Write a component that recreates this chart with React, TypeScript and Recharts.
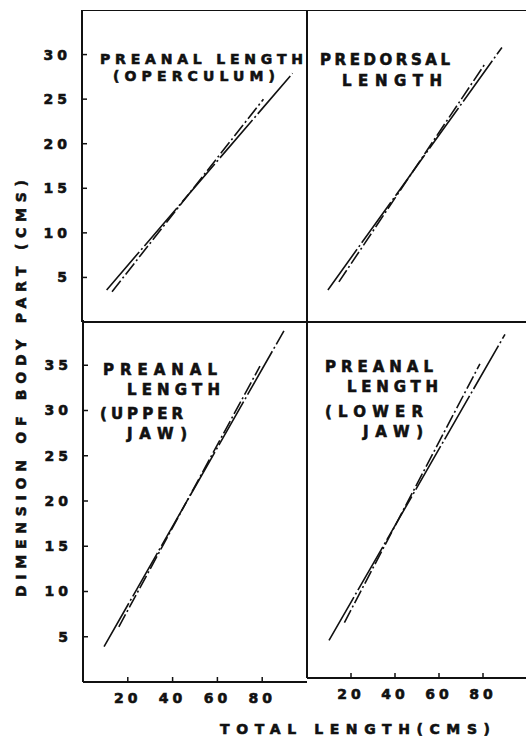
import React from "react"
import { LineChart, Line, XAxis, YAxis, ReferenceLine } from "recharts"

// tick values
const X_TICKS = [20, 40, 60, 80]
const Y_TICKS_TOP = [5, 10, 15, 20, 25, 30]
const Y_TICKS_BOTTOM = [5, 10, 15, 20, 25, 30, 35]

// preanal length (operculum)
const opercLongX = [11, 94]
const opercLongY = [3.6, 27.9]
const opercShortX = [13.4, 81]
const opercShortY = [3.4, 25.0]

// predorsal length
const predorsLongX = [9.5, 88.6]
const predorsLongY = [3.6, 30.8]
const predorsShortX = [14.5, 81]
const predorsShortY = [4.5, 29.0]

// preanal length (upper jaw)
const upperLongX = [9.4, 89.7]
const upperLongY = [3.9, 38.8]
const upperShortX = [16, 79]
const upperShortY = [6.1, 34.9]

// preanal length (lower jaw)
const lowerLongX = [10, 90]
const lowerLongY = [4.2, 38.4]
const lowerShortX = [17, 78.6]
const lowerShortY = [6.2, 35.1]

const INK = "#111"
const FONT = "DejaVu Sans"

const pts = (xs: number[], ys: number[]) => xs.map((x, i) => ({ x, y: ys[i] }))

const tickStyle = {
  fontSize: 14, fontWeight: 700, fill: INK, fontFamily: FONT, letterSpacing: 4,
  stroke: INK, strokeWidth: 0.6,
}

interface PanelProps {
  left: number
  top: number
  width: number
  height: number
  yAxisWidth: number
  xAxisHeight: number
  yMax: number
  yTicks: number[]
  yLabels: boolean
  xLabels: boolean
  topBorder: boolean
  longLine: { x: number; y: number }[]
  shortLine: { x: number; y: number }[]
}

function Panel(p: PanelProps) {
  return (
    <div style={{ position: "absolute", left: p.left, top: p.top }}>
      <LineChart width={p.width} height={p.height} margin={{ top: 0, right: 0, left: 0, bottom: 0 }}>
        <XAxis
          type="number"
          dataKey="x"
          domain={[0, 100]}
          ticks={X_TICKS}
          height={p.xAxisHeight}
          axisLine={{ stroke: INK, strokeWidth: 2 }}
          tickLine={{ stroke: INK, strokeWidth: 1.5 }}
          tickSize={-5}
          tickMargin={16}
          tick={p.xLabels ? tickStyle : false}
          allowDataOverflow
        />
        <YAxis
          type="number"
          dataKey="y"
          domain={[0, p.yMax]}
          ticks={p.yTicks}
          width={p.yAxisWidth}
          axisLine={{ stroke: INK, strokeWidth: 2 }}
          tickLine={{ stroke: INK, strokeWidth: 1.5 }}
          tickSize={-5}
          tickMargin={16}
          tick={p.yLabels ? tickStyle : false}
          allowDataOverflow
        />
        {p.topBorder && <ReferenceLine y={p.yMax} stroke={INK} strokeWidth={2} />}
        <Line
          data={p.longLine}
          dataKey="y"
          stroke={INK}
          strokeWidth={1.6}
          strokeDasharray="50 3 2 3"
          dot={false}
          isAnimationActive={false}
        />
        <Line
          data={p.shortLine}
          dataKey="y"
          stroke={INK}
          strokeWidth={1.6}
          strokeDasharray="14 3 2 3"
          dot={false}
          isAnimationActive={false}
        />
      </LineChart>
    </div>
  )
}

const titleStyle = {
  fontFamily: FONT, fontWeight: 700, fontSize: 15, fill: INK, stroke: INK, strokeWidth: 0.6,
}

export default function App() {
  return (
    <div style={{ position: "absolute", left: 0, top: 0, width: 526, height: 743, background: "#fff", overflow: "hidden" }}>
      <Panel
        left={0} top={10} width={306} height={322} yAxisWidth={82} xAxisHeight={10}
        yMax={35} yTicks={Y_TICKS_TOP} yLabels xLabels={false} topBorder
        longLine={pts(opercLongX, opercLongY)} shortLine={pts(opercShortX, opercShortY)}
      />
      <Panel
        left={297} top={10} width={230} height={322} yAxisWidth={10} xAxisHeight={10}
        yMax={35} yTicks={Y_TICKS_TOP} yLabels={false} xLabels={false} topBorder
        longLine={pts(predorsLongX, predorsLongY)} shortLine={pts(predorsShortX, predorsShortY)}
      />
      <Panel
        left={0} top={320} width={307} height={402} yAxisWidth={83} xAxisHeight={40}
        yMax={40} yTicks={Y_TICKS_BOTTOM} yLabels xLabels topBorder={false}
        longLine={pts(upperLongX, upperLongY)} shortLine={pts(upperShortX, upperShortY)}
      />
      <Panel
        left={297} top={320} width={230} height={398} yAxisWidth={10} xAxisHeight={40}
        yMax={40} yTicks={Y_TICKS_BOTTOM} yLabels={false} xLabels topBorder={false}
        longLine={pts(lowerLongX, lowerLongY)} shortLine={pts(lowerShortX, lowerShortY)}
      />
      <svg width={526} height={743} style={{ position: "absolute", left: 0, top: 0, pointerEvents: "none" }}>
        <text x={100} y={64} textLength={203} lengthAdjust="spacing" {...titleStyle} fontSize={14}>PREANAL LENGTH</text>
        <text x={113} y={81} textLength={162} lengthAdjust="spacing" {...titleStyle} fontSize={14}>(OPERCULUM)</text>
        <text x={320} y={65} textLength={130} lengthAdjust="spacing" {...titleStyle}>PREDORSAL</text>
        <text x={342} y={86} textLength={100} lengthAdjust="spacing" {...titleStyle}>LENGTH</text>
        <text x={103} y={375} textLength={114} lengthAdjust="spacing" {...titleStyle}>PREANAL</text>
        <text x={127} y={395} textLength={93} lengthAdjust="spacing" {...titleStyle}>LENGTH</text>
        <text x={100} y={419} textLength={83} lengthAdjust="spacing" {...titleStyle}>(UPPER</text>
        <text x={127} y={439} textLength={60} lengthAdjust="spacing" {...titleStyle}>JAW)</text>
        <text x={325} y={372} textLength={108} lengthAdjust="spacing" {...titleStyle}>PREANAL</text>
        <text x={347} y={392} textLength={91} lengthAdjust="spacing" {...titleStyle}>LENGTH</text>
        <text x={325} y={417} textLength={98} lengthAdjust="spacing" {...titleStyle}>(LOWER</text>
        <text x={363} y={437} textLength={60} lengthAdjust="spacing" {...titleStyle}>JAW)</text>
        <text x={220} y={734} textLength={270} lengthAdjust="spacing" {...titleStyle} fontSize={14}>TOTAL LENGTH(CMS)</text>
        <text
          x={0} y={0} textLength={417} lengthAdjust="spacing" {...titleStyle} fontSize={14}
          transform="translate(26 597) rotate(-90)"
        >DIMENSION OF BODY PART (CMS)</text>
      </svg>
    </div>
  )
}
